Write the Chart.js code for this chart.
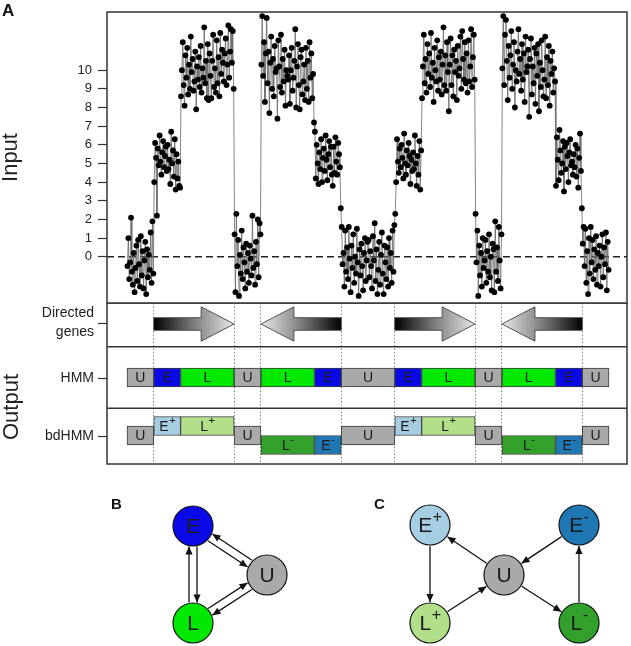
<!DOCTYPE html>
<html>
<head>
<meta charset="utf-8">
<title>HMM vs bdHMM</title>
<script src="https://cdn.jsdelivr.net/npm/chart.js"></script>
<style>
  body { margin: 0; background: #fff; }
  #page { position: relative; width: 631px; height: 646px; font-family: "Liberation Sans", Arial, Helvetica, sans-serif; }
  .panel { position: absolute; }
  .tag { position: absolute; font-weight: bold; color: #111; }
  .side { position: absolute; white-space: nowrap; font-size: 22px; line-height: 22px; color: #222;
          transform: translate(-50%, -50%) rotate(-90deg); }
</style>
</head>
<body>
<div id="page">
  <div class="panel" style="left:0;top:0;width:631px;height:304px"><canvas id="inputChart"></canvas></div>
  <div class="panel" style="left:0;top:303px;width:631px;height:162px"><canvas id="outputChart"></canvas></div>
  <div class="panel" style="left:0;top:480px;width:631px;height:166px"><canvas id="graphChart"></canvas></div>
  <div class="tag" style="left:2px;top:1px;font-size:17px">A</div>
  <div class="tag" style="left:111px;top:495px;font-size:15px">B</div>
  <div class="tag" style="left:374px;top:495px;font-size:15px">C</div>
  <div class="side" style="left:11px;top:407px">Output</div>
</div>
<script>
const FONT = '"Liberation Sans", Arial, Helvetica, sans-serif';

// ---- data -------------------------------------------------------------
const samplesPerUnit = 30;
const segUnits   = [1, 1, 2, 1, 2, 1, 2, 1, 2, 1, 2, 1, 1];
const hmmStates  = ['U', 'E', 'L', 'U', 'L', 'E', 'U', 'E', 'L', 'U', 'L', 'E', 'U'];
const bdStates   = ['U', 'E+', 'L+', 'U', 'L-', 'E-', 'U', 'E+', 'L+', 'U', 'L-', 'E-', 'U'];

// input signal, one array per segment
const u1 = [-0.5, 1.0, -1.2, -0.3, 2.1, -0.8, -1.5, 0.2, -1.9, -0.6, 0.6, -1.3, 0.9, -0.4, -1.6,
            1.1, -1.0, 0.3, -1.7, -0.2, 0.8, -2.0, 0.4, -1.1, 0.1, -0.7, 1.3, -1.4, 1.9, -0.9];
const e1 = [4.0, 6.1, 5.3, 2.2, 5.8, 4.9, 6.5, 5.1, 4.4, 5.6, 6.2, 4.8, 5.4, 5.9, 4.6,
            6.0, 4.7, 5.2, 3.9, 6.7, 5.0, 5.7, 4.3, 6.3, 3.6, 5.5, 4.2, 5.1, 3.8, 3.7];
const l1 = [8.6, 10.0, 11.5, 9.2, 8.1, 10.8, 9.6, 11.2, 8.7, 10.3, 9.0, 11.8, 9.9, 10.6, 8.9,
            9.4, 11.0, 7.9, 10.2, 9.5, 10.7, 9.1, 11.3, 8.8, 10.1, 9.6, 12.3, 9.3, 10.5, 8.5,
            11.4, 8.4, 10.9, 9.7, 8.5, 10.5, 11.9, 9.1, 10.1, 8.8, 11.6, 9.3, 10.7, 8.6, 12.0,
            9.8, 11.1, 10.4, 9.4, 10.9, 11.7, 9.2, 10.3, 12.4, 9.6, 11.0, 12.2, 10.4, 12.1, 9.0];
const u2 = [1.2, -1.9, 2.3, -0.5, 0.9, -2.1, 0.1, -0.9, 1.4, -1.2, 0.5, -0.3, -1.7, 0.7, -0.8,
            0.2, -1.4, 0.6, -0.1, -1.0, 2.2, -0.6, 0.3, -1.5, 0.8, -0.4, 2.0, -1.1, 1.8, 1.2];
const l2 = [10.3, 12.9, 9.7, 11.5, 8.3, 10.9, 12.8, 9.3, 11.0, 7.7, 10.4, 11.8, 9.0, 10.6, 8.6,
            11.3, 9.9, 10.1, 7.4, 11.6, 10.2, 9.1, 11.9, 8.8, 10.6, 9.4, 11.1, 8.1, 10.0, 9.7,
            9.5, 10.8, 8.2, 10.0, 11.2, 8.9, 9.6, 10.5, 12.2, 8.0, 10.2, 11.4, 9.2, 7.9, 10.7,
            11.1, 8.7, 9.4, 10.3, 8.4, 11.2, 9.0, 10.5, 8.3, 11.5, 9.6, 10.9, 8.5, 9.8, 7.2];
const e2 = [6.7, 4.2, 6.0, 5.0, 3.9, 5.6, 4.7, 6.3, 4.0, 5.3, 5.8, 4.6, 6.5, 5.2, 4.1,
            5.5, 6.2, 4.8, 5.9, 4.4, 3.8, 5.9, 4.5, 6.4, 5.1, 4.4, 6.1, 5.5, 4.8, 2.6];
const u3 = [1.6, -0.4, 0.2, -1.6, 1.4, -0.8, 0.5, -1.2, 1.6, -0.1, -1.9, 0.6, -0.6, 1.2, -1.4,
            0.0, -0.9, 1.5, -0.3, -2.1, 0.4, -1.0, 0.7, -0.5, -1.8, 0.2, 1.0, -1.3, -0.2, 0.8,
            0.9, -1.1, 0.3, -0.5, -1.7, 1.1, -0.2, 1.8, -1.3, 0.4, -2.0, -0.7, 0.8, -1.5, 0.1,
            1.3, -0.9, -2.0, 0.6, -0.3, -1.2, 0.5, -1.6, 1.0, -0.6, 0.2, -1.4, 1.4, -0.8, 1.7];
const e3 = [2.3, 4.0, 6.3, 5.1, 4.5, 5.8, 4.8, 6.0, 5.3, 4.2, 6.6, 5.0, 4.4, 5.7, 4.9,
            6.1, 5.4, 3.9, 5.2, 4.6, 5.6, 4.7, 6.5, 5.0, 3.8, 5.4, 4.4, 6.2, 3.6, 5.7];
const l3 = [8.5, 10.2, 11.9, 9.3, 10.6, 8.8, 11.4, 9.8, 10.9, 9.1, 12.0, 9.6, 10.4, 8.3, 11.2,
            10.0, 9.4, 11.6, 8.9, 10.7, 9.5, 11.0, 8.7, 10.3, 12.3, 9.2, 10.8, 8.9, 11.5, 9.9,
            7.8, 10.3, 11.7, 9.2, 10.8, 8.6, 11.1, 9.9, 10.5, 8.4, 11.3, 9.7, 10.1, 11.8, 9.0,
            12.1, 10.6, 9.5, 11.5, 9.3, 10.9, 8.8, 11.6, 9.4, 10.2, 12.2, 9.1, 10.7, 11.9, 9.5];
const u4 = [2.3, -0.3, 1.4, -2.1, 0.6, -1.0, 0.2, -1.6, 1.0, -0.6, -0.2, 0.9, -1.4, 0.3, -0.8,
            1.2, -1.1, 0.0, -1.8, 0.7, 0.4, -1.9, 1.9, -0.8, 0.5, -1.3, 1.6, -0.2, -1.7, 1.2];
const l4 = [10.1, 12.9, 9.2, 11.9, 12.7, 10.5, 8.4, 11.3, 9.6, 10.8, 12.1, 9.0, 10.3, 11.5, 8.0,
            10.0, 9.4, 11.0, 12.2, 9.8, 10.6, 8.9, 11.4, 9.5, 10.9, 8.3, 11.8, 9.9, 10.2, 11.1,
            7.5, 10.6, 11.7, 8.7, 10.2, 9.3, 11.2, 8.2, 10.9, 9.7, 11.4, 7.8, 10.4, 9.1, 11.6,
            10.0, 8.6, 9.5, 11.8, 8.5, 10.7, 9.2, 11.3, 8.1, 10.5, 9.8, 11.0, 8.8, 10.1, 9.4];
const e4 = [3.8, 6.4, 5.2, 4.1, 6.8, 5.7, 4.5, 5.0, 6.2, 3.5, 5.9, 4.7, 6.1, 5.4, 4.0,
            5.6, 6.3, 4.9, 5.1, 4.4, 5.5, 4.8, 6.0, 4.3, 5.8, 3.7, 5.3, 6.6, 4.6, 2.6];
const u5 = [0.7, 1.6, -0.5, 1.5, -1.4, 0.3, -2.0, 1.0, -0.9, 1.6, -0.3, 0.9, -1.2, 0.4, -0.7,
            1.1, -1.5, 0.2, -0.5, 0.6, -1.6, 0.0, 1.2, -1.1, 0.5, -0.4, 1.3, -1.8, 0.8, -0.7];

const yTicks = [0, 1, 2, 3, 4, 5, 6, 7, 8, 9, 10];

// directed genes (in segment units)
const geneFrom   = [1, 5, 10, 14];
const geneTo     = [4, 8, 13, 17];
const geneStrand = ['+', '-', '+', '-'];

const rowLabels = [['Directed', 'genes'], 'HMM', 'bdHMM'];

// state graphs
const bNodes  = ['E', 'U', 'L'];
const bNodeX  = [193, 267, 193];
const bNodeY  = [526, 575, 623];
const bEdgeFrom = ['E', 'L', 'E', 'U', 'L', 'U'];
const bEdgeTo   = ['L', 'E', 'U', 'E', 'U', 'L'];
const bEdgeSide = [1, 1, -1, -1, 1, 1];

const cNodes  = ['E+', 'E-', 'U', 'L+', 'L-'];
const cNodeX  = [430, 579, 504, 430, 579];
const cNodeY  = [525, 525, 575, 623, 623];
const cEdgeFrom = ['U', 'E+', 'L+', 'U', 'L-', 'E-'];
const cEdgeTo   = ['E+', 'L+', 'U', 'L-', 'E-', 'U'];

// ---- styles ---------------------------------------------------------------
const stateColors = {
  'U': '#a9a9a9', 'E': '#0a0ae8', 'L': '#00e800',
  'E+': '#a6cee3', 'L+': '#b2df8a', 'E-': '#1f78b4', 'L-': '#33a02c'
};
const X_MIN = -0.747, X_MAX = 18.67;
const HMM_ROW = 74.5, BD_ROW = 132.5, GENE_ROW = 21, BD_SHIFT = 9.5;
const NODE_R = 20, EDGE_GAP = 4;

// ---- helpers --------------------------------------------------------------
const segStart = segUnits.map((u, k) => segUnits.slice(0, k).reduce((a, b) => a + b, 0));
const inputValues = [].concat(u1, e1, l1, u2, l2, e2, u3, e3, l3, u4, l4, e4, u5);
const inputPoints = inputValues.map((v, i) => ({ x: (i + 0.5) / samplesPerUnit, y: v }));

// keep the plot area where we put it: no label overhang padding
const noOverhang = s => { s.width = 107; s.paddingTop = 0; s.paddingBottom = 0; };

function drawState(ctx, name, cx, cy, size, supSize, color) {
  const base = name[0], sup = name.slice(1);
  ctx.save();
  ctx.fillStyle = color || '#222';
  ctx.textBaseline = 'middle';
  ctx.textAlign = 'left';
  ctx.font = size + 'px ' + FONT;
  const bw = ctx.measureText(base).width;
  ctx.font = supSize + 'px ' + FONT;
  const sw = sup ? ctx.measureText(sup).width : 0;
  const x = cx - (bw + sw) / 2;
  ctx.font = size + 'px ' + FONT;
  ctx.fillText(base, x, cy);
  if (sup) {
    ctx.font = supSize + 'px ' + FONT;
    ctx.fillText(sup, x + bw + 0.5, cy - size * 0.42);
  }
  ctx.restore();
}

const framePlugin = {
  id: 'frame',
  afterDraw(chart, args, opts) {
    const { ctx, chartArea: a } = chart;
    ctx.save();
    ctx.strokeStyle = '#333';
    ctx.lineWidth = 1.5;
    ctx.strokeRect(a.left, a.top, a.right - a.left, a.bottom - a.top);
    (opts.rows || []).forEach(v => {
      const y = chart.scales.y.getPixelForValue(v);
      ctx.beginPath();
      ctx.moveTo(a.left, y);
      ctx.lineTo(a.right, y);
      ctx.stroke();
    });
    ctx.restore();
  }
};

const genePlugin = {
  id: 'genes',
  beforeDatasetsDraw(chart) {
    const { ctx, scales: { x, y } } = chart;
    const yc = y.getPixelForValue(GENE_ROW);
    geneFrom.forEach((from, k) => {
      const fwd = geneStrand[k] === '+';
      const tail = x.getPixelForValue(fwd ? from : geneTo[k]);
      const tip = x.getPixelForValue(fwd ? geneTo[k] : from);
      const dir = Math.sign(tip - tail);
      const neck = tip - dir * 33;
      ctx.save();
      ctx.beginPath();
      ctx.moveTo(tail, yc - 6.3);
      ctx.lineTo(neck, yc - 6.3);
      ctx.lineTo(neck, yc - 17.2);
      ctx.lineTo(tip, yc);
      ctx.lineTo(neck, yc + 17.2);
      ctx.lineTo(neck, yc + 6.3);
      ctx.lineTo(tail, yc + 6.3);
      ctx.closePath();
      const g = ctx.createLinearGradient(tail, 0, tip, 0);
      g.addColorStop(0, '#000');
      g.addColorStop(0.55, '#8a8a8a');
      g.addColorStop(1, '#e8e8e8');
      ctx.fillStyle = g;
      ctx.fill();
      ctx.strokeStyle = '#444';
      ctx.lineWidth = 0.9;
      ctx.stroke();
      ctx.restore();
    });
  }
};

const boxLabels = {
  id: 'boxLabels',
  afterDatasetsDraw(chart) {
    chart.data.datasets.forEach((ds, i) => {
      if (!ds.stateNames) return;
      chart.getDatasetMeta(i).data.forEach((bar, k) => {
        const { x, y, base } = bar.getProps(['x', 'y', 'base'], true);
        drawState(chart.ctx, ds.stateNames[k], (x + base) / 2, y + 1, 14, 11, '#1a1a1a');
      });
    });
  }
};

// ---- panel A: input -------------------------------------------------------
new Chart(document.getElementById('inputChart'), {
  type: 'scatter',
  data: {
    datasets: [
      {
        data: inputPoints, showLine: true, borderColor: '#666', borderWidth: 0.8,
        pointRadius: 2.9, pointBackgroundColor: '#000', pointBorderWidth: 0, order: 1
      },
      {
        data: [{ x: X_MIN, y: 0 }, { x: X_MAX, y: 0 }], showLine: true, borderColor: '#222',
        borderWidth: 1.3, borderDash: [7, 4], pointRadius: 0, order: 2
      }
    ]
  },
  options: {
    responsive: true, maintainAspectRatio: false, animation: false, events: [],
    layout: { autoPadding: false, padding: { top: 12, right: 4, bottom: 1, left: 0 } },
    plugins: { legend: { display: false }, tooltip: { enabled: false }, frame: {} },
    scales: {
      x: { type: 'linear', min: X_MIN, max: X_MAX, display: false },
      y: {
        type: 'linear', min: -2.48, max: 13.12,
        afterFit: noOverhang,
        afterBuildTicks: s => { s.ticks = yTicks.map(v => ({ value: v })); },
        grid: { drawOnChartArea: false, tickLength: 9, tickColor: '#333', tickWidth: 1.2 },
        border: { display: false },
        ticks: { color: '#222', font: { family: FONT, size: 13 }, padding: 6 },
        title: { display: true, text: 'Input', color: '#222', padding: 0,
                 font: { family: FONT, size: 22, lineHeight: 1.0 } }
      }
    }
  },
  plugins: [framePlugin]
});

// ---- panel A: output rows -------------------------------------------------
const hmmBars = hmmStates.map((s, k) => ({ x: [segStart[k], segStart[k] + segUnits[k]], y: HMM_ROW }));
const bdBars = bdStates.map((s, k) => {
  const shift = s.endsWith('+') ? -BD_SHIFT : s.endsWith('-') ? BD_SHIFT : 0;
  return { x: [segStart[k], segStart[k] + segUnits[k]], y: BD_ROW + shift };
});
const outTicks = [GENE_ROW - 1, HMM_ROW + 0.5, BD_ROW + 0.5];

new Chart(document.getElementById('outputChart'), {
  type: 'bar',
  data: {
    datasets: [
      { data: hmmBars, stateNames: hmmStates, backgroundColor: hmmStates.map(s => stateColors[s]) },
      { data: bdBars, stateNames: bdStates, backgroundColor: bdStates.map(s => stateColors[s]) }
    ]
  },
  options: {
    indexAxis: 'y',
    responsive: true, maintainAspectRatio: false, animation: false, events: [],
    layout: { autoPadding: false, padding: { top: 0, right: 4, bottom: 1, left: 0 } },
    datasets: { bar: { grouped: false, barThickness: 19, borderWidth: 1, borderColor: '#3a3a3a', borderSkipped: false } },
    plugins: { legend: { display: false }, tooltip: { enabled: false }, frame: { rows: [43.7, 105.3] } },
    scales: {
      x: {
        type: 'linear', min: X_MIN, max: X_MAX, offset: false,
        afterBuildTicks: s => { s.ticks = geneFrom.concat(geneTo).map(v => ({ value: v })); },
        afterFit: s => { s.height = 0; s.paddingLeft = 0; s.paddingRight = 0; },
        ticks: { display: false },
        grid: { color: '#8a8a8a', lineWidth: 1, drawTicks: false, offset: false },
        border: { display: false, dash: [1.5, 2] }
      },
      y: {
        type: 'linear', min: 0, max: 161, reverse: true, offset: false,
        afterFit: noOverhang,
        afterBuildTicks: s => { s.ticks = outTicks.map(v => ({ value: v })); },
        grid: { drawOnChartArea: false, offset: false, tickLength: 9, tickColor: '#333', tickWidth: 1.2 },
        border: { display: false },
        ticks: { color: '#222', padding: 4, font: { family: FONT, size: 14, lineHeight: 1.35 },
                 callback: (v, i) => rowLabels[i] }
      }
    }
  },
  plugins: [genePlugin, boxLabels, framePlugin]
});

// ---- panels B and C: state graphs -----------------------------------------
function edgeLine(names, xs, ys, from, to, side) {
  const a = names.indexOf(from), b = names.indexOf(to);
  const dx = xs[b] - xs[a], dy = ys[b] - ys[a], len = Math.hypot(dx, dy);
  const ux = dx / len, uy = dy / len;
  const off = side * EDGE_GAP;
  const ox = uy * off, oy = -ux * off;
  const along = Math.sqrt(NODE_R * NODE_R - off * off) + 1;
  return [
    { x: xs[a] + ux * along + ox, y: ys[a] + uy * along + oy },
    { x: xs[b] - ux * along + ox, y: ys[b] - uy * along + oy }
  ];
}

const edgeStyle = { showLine: true, borderColor: '#111', borderWidth: 1.3, pointRadius: 0, arrow: true };
const nodeStyle = { showLine: false, pointRadius: NODE_R, pointBorderColor: '#111', pointBorderWidth: 1.2 };

const graphSets = [];
bEdgeFrom.forEach((f, k) => graphSets.push(Object.assign({ data: edgeLine(bNodes, bNodeX, bNodeY, f, bEdgeTo[k], bEdgeSide[k]) }, edgeStyle)));
cEdgeFrom.forEach((f, k) => graphSets.push(Object.assign({ data: edgeLine(cNodes, cNodeX, cNodeY, f, cEdgeTo[k], 0) }, edgeStyle)));
graphSets.push(Object.assign({
  data: bNodes.map((n, k) => ({ x: bNodeX[k], y: bNodeY[k] })), nodeNames: bNodes,
  pointBackgroundColor: bNodes.map(n => stateColors[n])
}, nodeStyle));
graphSets.push(Object.assign({
  data: cNodes.map((n, k) => ({ x: cNodeX[k], y: cNodeY[k] })), nodeNames: cNodes,
  pointBackgroundColor: cNodes.map(n => stateColors[n])
}, nodeStyle));

const graphPlugin = {
  id: 'graphDecor',
  afterDatasetsDraw(chart) {
    const ctx = chart.ctx;
    chart.data.datasets.forEach((ds, i) => {
      const pts = chart.getDatasetMeta(i).data;
      if (ds.arrow) {
        const p = pts[0], q = pts[1];
        const ang = Math.atan2(q.y - p.y, q.x - p.x);
        ctx.save();
        ctx.translate(q.x, q.y);
        ctx.rotate(ang);
        ctx.beginPath();
        ctx.moveTo(0, 0);
        ctx.lineTo(-8, -3.6);
        ctx.lineTo(-8, 3.6);
        ctx.closePath();
        ctx.fillStyle = '#111';
        ctx.fill();
        ctx.restore();
      }
      if (ds.nodeNames) {
        pts.forEach((pt, k) => drawState(ctx, ds.nodeNames[k], pt.x, pt.y + 1, 21, 16, '#1a1a1a'));
      }
    });
  }
};

new Chart(document.getElementById('graphChart'), {
  type: 'scatter',
  data: { datasets: graphSets },
  options: {
    responsive: true, maintainAspectRatio: false, animation: false, events: [],
    layout: { autoPadding: false, padding: 0 },
    plugins: { legend: { display: false }, tooltip: { enabled: false } },
    scales: {
      x: { type: 'linear', min: 0, max: 631, display: false },
      y: { type: 'linear', min: 480, max: 646, reverse: true, display: false }
    }
  },
  plugins: [graphPlugin]
});
</script>
</body>
</html>
